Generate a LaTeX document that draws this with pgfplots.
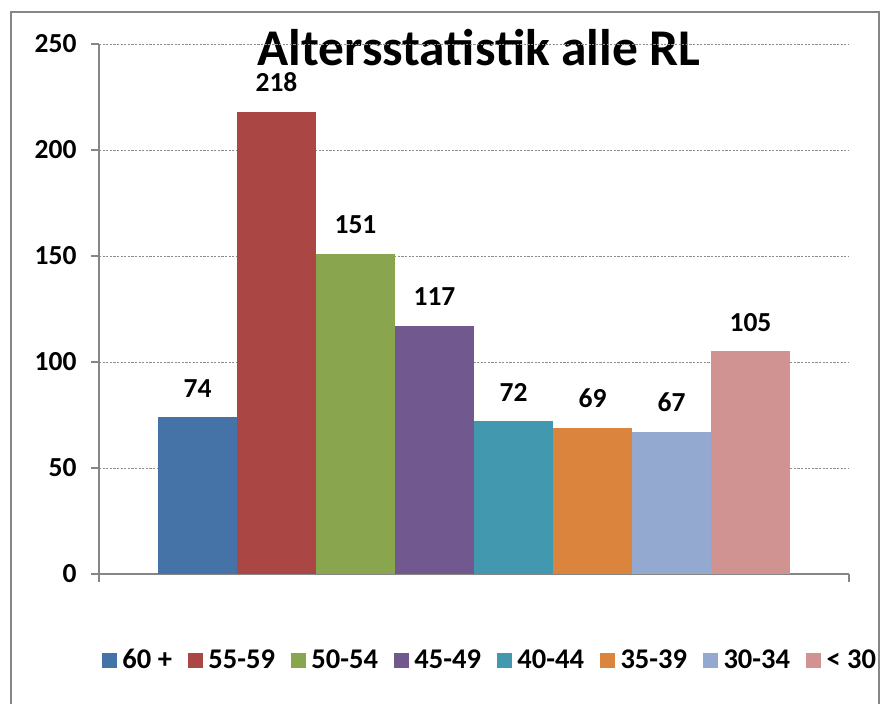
\documentclass[border=0pt]{standalone}
\usepackage{fontspec}
\setmainfont{Carlito}
\usepackage{pgfplots}
\pgfplotsset{compat=1.18}
\definecolor{c1}{HTML}{4572A7}
\definecolor{c2}{HTML}{AA4643}
\definecolor{c3}{HTML}{89A54E}
\definecolor{c4}{HTML}{71588F}
\definecolor{c5}{HTML}{4198AF}
\definecolor{c6}{HTML}{DB843D}
\definecolor{c7}{HTML}{93A9CF}
\definecolor{c8}{HTML}{D19392}
\definecolor{axgray}{HTML}{868686}
\definecolor{gridgray}{HTML}{8C8C8C}
\begin{document}
\begin{tikzpicture}
\useasboundingbox (0pt,0pt) rectangle (889pt,704pt);
\draw[axgray, line width=2pt] (11pt,-10pt) -- (11pt,692pt) -- (879pt,692pt) -- (879pt,-10pt);
\node[anchor=base, font=\fontsize{51.5}{58}\selectfont\bfseries] at (479pt,638pt) {Altersstatistik alle RL};
\begin{axis}[
  at={(99pt,130pt)}, anchor=south west,
  scale only axis, width=750pt, height=530pt,
  /pgf/number format/assume math mode=true,
  xmin=-0.247, xmax=9.247, ymin=0, ymax=250,
  ytick={0,50,...,250},
  xtick={-0.247,9.247}, xticklabels={},
  axis x line=bottom, axis y line=left,
  axis line style={-, draw=axgray, line width=1.6pt},
  tick style={draw=axgray, line width=1.6pt},
  major tick length=8pt, tick align=outside,
  ymajorgrids,
  major grid style={draw=gridgray, line width=0.7pt, dash pattern=on 2.2pt off 1.4pt},
  yticklabel style={font=\fontsize{27.5}{30}\selectfont\bfseries, xshift=-11pt},
  ybar, bar width=79pt, bar shift=0pt,
  nodes near coords,
  every node near coord/.append style={font=\fontsize{27.5}{30}\selectfont\bfseries, anchor=base, yshift=20pt},
  legend columns=8,
  legend style={at={(0.521,-0.1623)}, anchor=center, draw=none, fill=none,
    font=\fontsize{28.5}{31}\selectfont\bfseries,
    nodes={inner sep=1.5pt},
    /tikz/every even column/.append style={column sep=14.5pt},
    /tikz/every odd column/.append style={column sep=4pt}},
  legend cell align=left,
  legend image code/.code={\fill[#1] (0pt,-7.5pt) rectangle (15pt,7.5pt);},
]
\addplot[fill=c1, draw=none] coordinates {(1,74)};
\addplot[fill=c2, draw=none] coordinates {(2,218)};
\addplot[fill=c3, draw=none] coordinates {(3,151)};
\addplot[fill=c4, draw=none] coordinates {(4,117)};
\addplot[fill=c5, draw=none] coordinates {(5,72)};
\addplot[fill=c6, draw=none] coordinates {(6,69)};
\addplot[fill=c7, draw=none] coordinates {(7,67)};
\addplot[fill=c8, draw=none] coordinates {(8,105)};
\legend{60 +, 55-59, 50-54, 45-49, 40-44, 35-39, 30-34, < 30}
\end{axis}
\end{tikzpicture}
\end{document}
